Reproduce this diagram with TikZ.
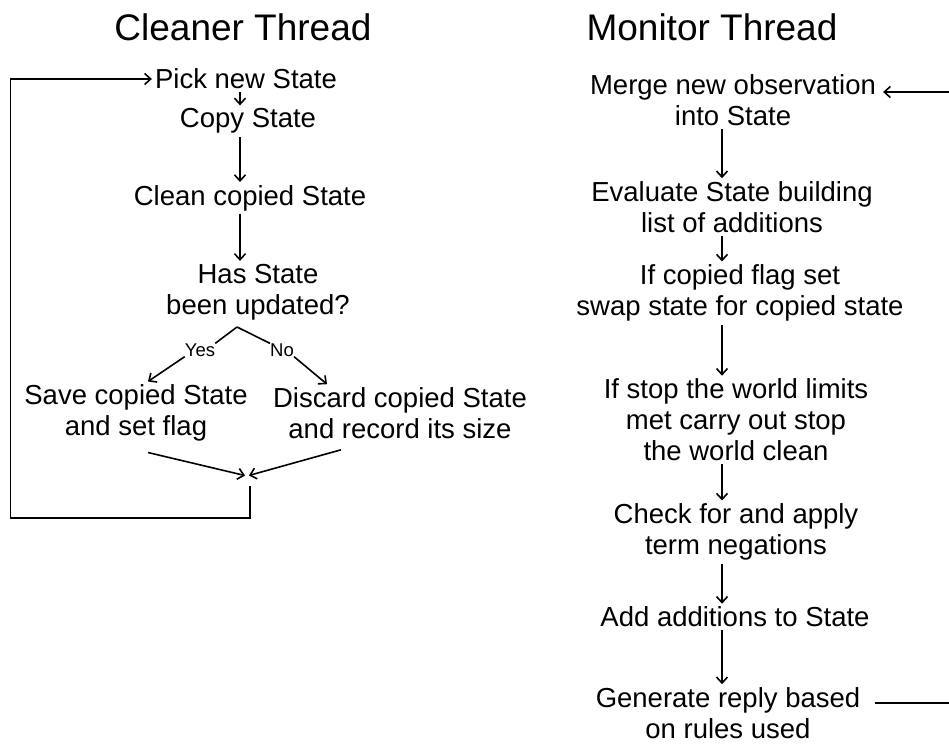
\documentclass[tikz,border=0pt]{standalone}
\usepackage{fontspec}
\setmainfont{Liberation Sans}
\usetikzlibrary{arrows.meta}

\tikzset{
  stage/.style={align=center, inner sep=3pt, font=\fontsize{27.5}{31}\selectfont},
  title/.style={inner sep=0pt, font=\fontsize{37}{40}\selectfont},
  answer/.style={inner sep=0pt, font=\fontsize{18.5}{20}\selectfont},
  wire/.style={line width=1.6pt},
  arr/.style={wire, -{Straight Barb[length=6pt,width=11pt]}},
}

\begin{document}
\begin{tikzpicture}[x=1pt,y=-1pt]
        \useasboundingbox (0,0) rectangle (949,745);

        % Headings
        \node[title] (cleanerhead) at (243,27) {Cleaner Thread};
        \node[title] (monitorhead) at (712,27) {Monitor Thread};

        % Cleaner thread
        \coordinate (laxis) at (240,0);
        \node[stage] (pick) at (246,79) {Pick new State};
        \node[stage] (copy) at (248,121) {Copy State};
        \node[stage] (clean) at (250,198) {Clean copied State};
        \node[stage] (has) at (258,292) {Has State\\been updated?};
        \node[answer] (yes) at (200,350) {Yes};
        \node[answer] (no) at (282,350) {No};
        \node[stage] (save) at (136,413) {Save copied State\\and set flag};
        \node[stage] (discard) at (400,413) {Discard copied State\\and record its size};
        \coordinate (apex) at (237,327);
        \coordinate (join) at (247,476);
        \coordinate (loopstart) at (250,486);
        \coordinate (lowleft) at (10.5,518);

        \draw[arr] (pick.south -| laxis) -- (copy.north -| laxis);
        \draw[arr] (copy.south -| laxis) -- (clean.north -| laxis);
        \draw[arr] (clean.south -| laxis) -- (has.north -| laxis);
        \draw[wire] (apex) -- (yes.north east);
        \draw[wire] (apex) -- (no.north west);
        \draw[arr] (yes.south west) -- ([xshift=12pt]save.north);
        \draw[arr] (no.south east) -- ([xshift=-73pt]discard.north);
        \draw[arr, shorten >=2pt] ([xshift=12pt,yshift=-8pt]save.south) -- (join);
        \draw[arr, shorten >=2pt] ([xshift=-59pt,yshift=-8pt]discard.south) -- (join);
        % back round to the start
        \draw[arr] (loopstart) |- (lowleft) |- (pick.west);

        % Monitor thread
        \coordinate (axis) at (722,0);
        \node[stage] (merge) at (733,100) {Merge new observation\\into State};
        \node[stage] (evalst) at (732,207) {Evaluate State building\\list of additions};
        \node[stage] (flag) at (740,293) {If copied flag set\\swap state for copied state};
        \node[stage] (stopworld) at (736,420) {If stop the world limits\\met carry out stop\\the world clean};
        \node[stage] (negate) at (736,532) {Check for and apply\\term negations};
        \node[stage] (addst) at (735,617) {Add additions to State};
        \node[stage] (reply) at (728,713) {Generate reply based\\on rules used};
        \coordinate (edge) at (952,400);

        \foreach \a/\b in {merge/evalst, evalst/flag, flag/stopworld, stopworld/negate, negate/addst, addst/reply}
            \draw[arr] (\a.south -| axis) -- (\b.north -| axis);
        \draw[arr] ([xshift=12pt,yshift=10pt]reply.east) -| (edge) |- ([xshift=4pt,yshift=8pt]merge.east);
\end{tikzpicture}
\end{document}
